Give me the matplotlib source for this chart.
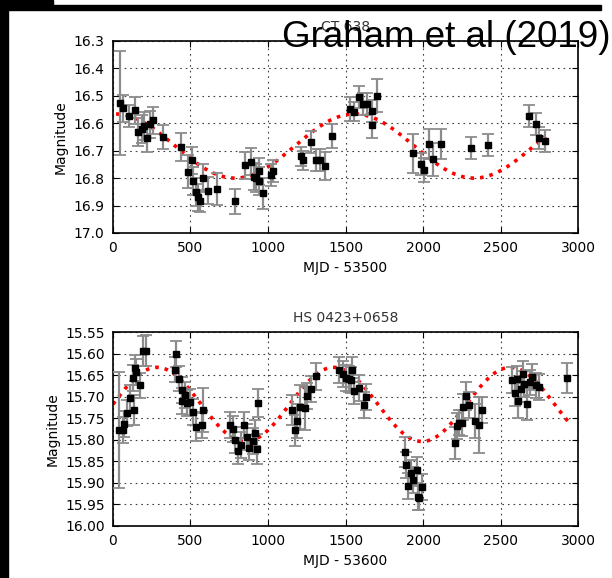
import matplotlib
matplotlib.use("Agg")
import matplotlib.pyplot as plt
import numpy as np
from matplotlib.patches import Rectangle

# CT 638, MJD - 53500
ct_mjd = [43, 66, 103, 144, 163, 185, 200, 221, 238, 260, 320, 436, 507, 483,
          518, 535, 561, 578, 546, 612, 673, 787, 853, 890, 907, 922, 941, 943,
          969, 1017, 1030, 1212, 1227, 1275, 1311, 1333, 1365, 1410, 1529, 1555,
          1589, 1615, 1641, 1669, 1669, 1703, 1938, 1987, 2008, 2041, 2067, 2118,
          2312, 2422, 2682, 2727, 2751, 2788]
ct_mag = [16.525, 16.546, 16.573, 16.553, 16.632, 16.621, 16.61, 16.655, 16.604,
          16.589, 16.65, 16.686, 16.735, 16.777, 16.81, 16.85, 16.883, 16.80,
          16.87, 16.846, 16.84, 16.885, 16.753, 16.74, 16.795, 16.80, 16.775,
          16.81, 16.856, 16.79, 16.774, 16.721, 16.735, 16.67, 16.735, 16.735,
          16.756, 16.646, 16.548, 16.558, 16.505, 16.529, 16.529, 16.554, 16.607,
          16.499, 16.71, 16.748, 16.77, 16.676, 16.731, 16.676, 16.691, 16.68,
          16.574, 16.603, 16.652, 16.666]
ct_err = [0.19, 0.05, 0.04, 0.05, 0.05, 0.05, 0.05, 0.05, 0.05, 0.05, 0.045,
          0.05, 0.05, 0.06, 0.05, 0.05, 0.04, 0.05, 0.05, 0.05, 0.058, 0.046,
          0.05, 0.05, 0.05, 0.05, 0.05, 0.05, 0.055, 0.04, 0.04, 0.035, 0.035,
          0.04, 0.04, 0.04, 0.05, 0.045, 0.045, 0.035, 0.04, 0.04, 0.04, 0.04,
          0.045, 0.06, 0.07, 0.04, 0.045, 0.055, 0.06, 0.055, 0.04, 0.04, 0.04,
          0.04, 0.04, 0.04]
# sinusoid fit: period, amplitude, mean magnitude, epoch of brightest point
ct_fit = dict(period=1542, amp=0.117, mean=16.683, peak=1558, start=20, end=2790)

# HS 0423+0658, MJD - 53600
hs_mjd = [39, 67, 71, 92, 108, 135, 127, 144, 150, 172, 196, 215, 404, 398, 426,
          443, 447, 464, 475, 497, 518, 538, 574, 578, 755, 776, 787, 804, 823,
          847, 866, 877, 903, 916, 933, 931, 1157, 1172, 1189, 1206, 1236, 1253,
          1275, 1309, 1459, 1481, 1502, 1524, 1539, 1537, 1552, 1588, 1620, 1633,
          1883, 1887, 1902, 1920, 1937, 1958, 1965, 1977, 1994, 2203, 2216, 2229,
          2250, 2259, 2276, 2298, 2335, 2361, 2378, 2574, 2591, 2604, 2613, 2632,
          2647, 2650, 2673, 2690, 2705, 2731, 2748, 2928]
hs_mag = [15.777, 15.777, 15.763, 15.738, 15.703, 15.731, 15.656, 15.633, 15.643,
          15.674, 15.595, 15.593, 15.602, 15.637, 15.658, 15.684, 15.711, 15.697,
          15.714, 15.713, 15.736, 15.771, 15.766, 15.731, 15.766, 15.775, 15.80,
          15.827, 15.812, 15.766, 15.794, 15.818, 15.802, 15.784, 15.715, 15.822,
          15.731, 15.778, 15.756, 15.724, 15.727, 15.699, 15.682, 15.653, 15.639,
          15.648, 15.657, 15.660, 15.637, 15.662, 15.687, 15.679, 15.719, 15.70,
          15.829, 15.859, 15.907, 15.877, 15.893, 15.87, 15.932, 15.934, 15.909,
          15.808, 15.769, 15.76, 15.762, 15.724, 15.698, 15.719, 15.757, 15.766,
          15.731, 15.662, 15.691, 15.659, 15.709, 15.682, 15.647, 15.671, 15.717,
          15.667, 15.655, 15.674, 15.678, 15.657]
hs_err = [0.135, 0.03, 0.03, 0.03, 0.03, 0.035, 0.03, 0.03, 0.03, 0.03, 0.035,
          0.035, 0.03, 0.03, 0.03, 0.03, 0.03, 0.03, 0.03, 0.03, 0.03, 0.033,
          0.03, 0.05, 0.03, 0.03, 0.03, 0.03, 0.03, 0.03, 0.03, 0.03, 0.03, 0.03,
          0.033, 0.035, 0.035, 0.036, 0.04, 0.05, 0.05, 0.03, 0.03, 0.032, 0.03,
          0.03, 0.03, 0.03, 0.03, 0.03, 0.03, 0.03, 0.03, 0.03, 0.035, 0.03,
          0.03, 0.03, 0.03, 0.03, 0.03, 0.03, 0.03, 0.037, 0.03, 0.03, 0.03,
          0.03, 0.033, 0.03, 0.04, 0.065, 0.03, 0.03, 0.03, 0.03, 0.04, 0.03,
          0.03, 0.03, 0.037, 0.03, 0.03, 0.03, 0.03, 0.034]
hs_fit = dict(period=1140, amp=0.086, mean=15.718, peak=284, start=0, end=2950)

panels = [
    dict(title="CT 638", xlabel="MJD - 53500", mjd=ct_mjd, mag=ct_mag, err=ct_err,
         fit=ct_fit, yticks=np.arange(16.3, 17.01, 0.1), fmt="%.1f",
         ylim=(17.0, 16.3)),
    dict(title="HS 0423+0658", xlabel="MJD - 53600", mjd=hs_mjd, mag=hs_mag,
         err=hs_err, fit=hs_fit, yticks=np.arange(15.55, 16.001, 0.05),
         fmt="%.2f", ylim=(16.0, 15.55)),
]

fig = plt.figure(figsize=(6.12, 5.78), dpi=100)
rects = [[0.1846, 0.5969, 0.760, 0.3322], [0.1846, 0.0900, 0.760, 0.3356]]

for rect, p in zip(rects, panels):
    ax = fig.add_axes(rect)
    f = p["fit"]
    t = np.linspace(f["start"], f["end"], 600)
    model = f["mean"] - f["amp"] * np.cos(2 * np.pi * (t - f["peak"]) / f["period"])
    ax.plot(t, model, color="red", linestyle=":", linewidth=2.6, zorder=2)
    ax.errorbar(p["mjd"], p["mag"], yerr=p["err"], fmt="s", color="black",
                markersize=5, ecolor="0.55", elinewidth=1.6, capsize=4,
                capthick=1.3, zorder=3)
    ax.set_xlim(0, 3000)
    ax.set_ylim(*p["ylim"])
    ax.set_xticks(np.arange(0, 3001, 500))
    ax.set_yticks(p["yticks"])
    ax.yaxis.set_major_formatter(matplotlib.ticker.FormatStrFormatter(p["fmt"]))
    ax.grid(True, color="0.25", linestyle=(0, (1.5, 3.5)), linewidth=0.8)
    ax.tick_params(direction="in", top=True, right=True, length=4, width=0.8,
                   labelsize=10, pad=6)
    for s in ax.spines.values():
        s.set_linewidth(1.2)
    ax.set_xlabel(p["xlabel"], fontsize=10)
    ax.set_ylabel("Magnitude", fontsize=10)
    ax.set_title(p["title"], fontsize=10, pad=7, color="0.2")

fig.text(610 / 612, 1 - 47 / 578, "Graham et al (2019)", ha="right",
         va="baseline", fontsize=26.5, family="Liberation Sans", color="black")

# black frame pieces at the left and top edges
fig.patches.append(Rectangle((0, 0), 8 / 612, 1, transform=fig.transFigure,
                             color="black", zorder=10))
fig.patches.append(Rectangle((0, 1 - 5 / 578), 53 / 612, 5 / 578,
                             transform=fig.transFigure, color="black", zorder=10))
fig.patches.append(Rectangle((0, 1 - 10 / 578), 601 / 612, 5 / 578,
                             transform=fig.transFigure, color="black", zorder=10))

fig.savefig("out.png", dpi=100)
